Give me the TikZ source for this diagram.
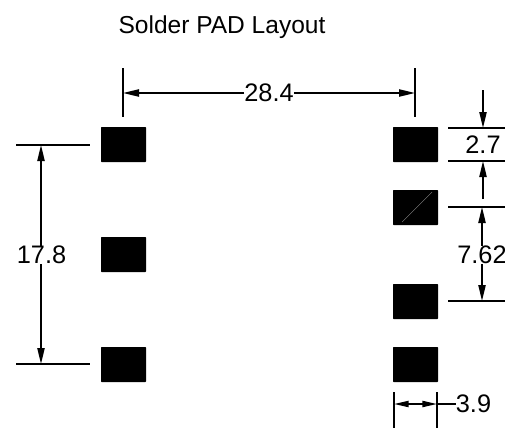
\documentclass[tikz,border=0pt]{standalone}
\usepackage{fontspec}
\setmainfont{Liberation Sans}
\usetikzlibrary{arrows.meta}
\tikzset{
  pad/.style={fill=black,draw=none,minimum width=33.75pt,minimum height=26.25pt,inner sep=0pt,rounded corners=0.5pt},
  ext/.style={line width=1.25pt,black},
  dim/.style={line width=1.25pt,black,-{Triangle[length=12pt,width=5.4pt]}},
  dimboth/.style={line width=1.25pt,black,{Triangle[length=11pt,width=4.6pt]}-{Triangle[length=11pt,width=4.6pt]}},
  lbl/.style={inner sep=0pt,font=\fontsize{19}{19}\selectfont,text=black,anchor=center},
  ttl/.style={inner sep=0pt,font=\fontsize{18.4}{18.4}\selectfont,text=black,anchor=center},
}
\begin{document}
\begin{tikzpicture}[x=0.75pt,y=-0.75pt]
\useasboundingbox (0,0) rectangle (505,428);
% pads
\node[pad] (L1) at (123.5,144.5) {};
\node[pad] (L2) at (123.5,254.5) {};
\node[pad] (L3) at (123.5,364.5) {};
\node[pad] (R1) at (415.5,144.5) {};
\node[pad] (R2) at (415.5,207.5) {};
\node[pad] (R3) at (415.5,301.5) {};
\node[pad] (R4) at (415.5,364.5) {};
\coordinate (dA) at (402,222);
\coordinate (dB) at (432,192);
\draw[line width=0.25pt,black!45] (dA) -- (dB);
% title and labels
\node[ttl] (title) at (222,27.5) {Solder PAD Layout};
\node[lbl] (w) at (269,93) {28.4};
\node[lbl] (h) at (41.5,255) {17.8};
\node[lbl] (t) at (483,145) {2.7};
\node[lbl] (p) at (482,255) {7.62};
\node[lbl] (s) at (473.5,404) {3.9};
% top dimension
\coordinate (a1) at (123,68); \coordinate (a2) at (123,117);
\coordinate (a3) at (415,68); \coordinate (a4) at (415,117);
\coordinate (am) at (123,93); \coordinate (an) at (415,93);
\draw[ext] (a1) -- (a2);
\draw[ext] (a3) -- (a4);
\draw[dim] (w.west) -- (am);
\draw[dim] (w.east) -- (an);
% left dimension
\coordinate (b1) at (16,145); \coordinate (b2) at (90,145);
\coordinate (b3) at (16,364); \coordinate (b4) at (90,364);
\coordinate (bm) at (41,145); \coordinate (bn) at (41,364);
\draw[ext] (b1) -- (b2);
\draw[ext] (b3) -- (b4);
\draw[dim] (h.north -| bm) -- (bm);
\draw[dim] (h.south -| bn) -- (bn);
% right dimensions
\coordinate (c1) at (448,128); \coordinate (c2) at (505,128);
\coordinate (d1) at (448,161); \coordinate (d2) at (505,161);
\coordinate (e1) at (448,207); \coordinate (e2) at (505,207);
\coordinate (f1) at (448,301); \coordinate (f2) at (505,301);
\draw[ext] (c1) -- (c2);
\draw[ext] (d1) -- (d2);
\draw[ext] (e1) -- (e2);
\draw[ext] (f1) -- (f2);
\coordinate (g1) at (483,90); \coordinate (g2) at (483,128);
\coordinate (g3) at (483,199); \coordinate (g4) at (483,161);
\draw[dim] (g1) -- (g2);
\draw[dim] (g3) -- (g4);
\coordinate (k1) at (482,207); \coordinate (k2) at (482,301);
\draw[dim] (p.north -| k1) -- (k1);
\draw[dim] (p.south -| k2) -- (k2);
% bottom dimension
\coordinate (m1) at (394,392); \coordinate (m2) at (394,428);
\coordinate (n1) at (437,392); \coordinate (n2) at (437,428);
\coordinate (mm) at (394,404); \coordinate (nn) at (437,404);
\draw[ext] (m1) -- (m2);
\draw[ext] (n1) -- (n2);
\draw[dimboth] (mm) -- (nn);
\draw[ext] (nn) -- (s.west);
\end{tikzpicture}
\end{document}
